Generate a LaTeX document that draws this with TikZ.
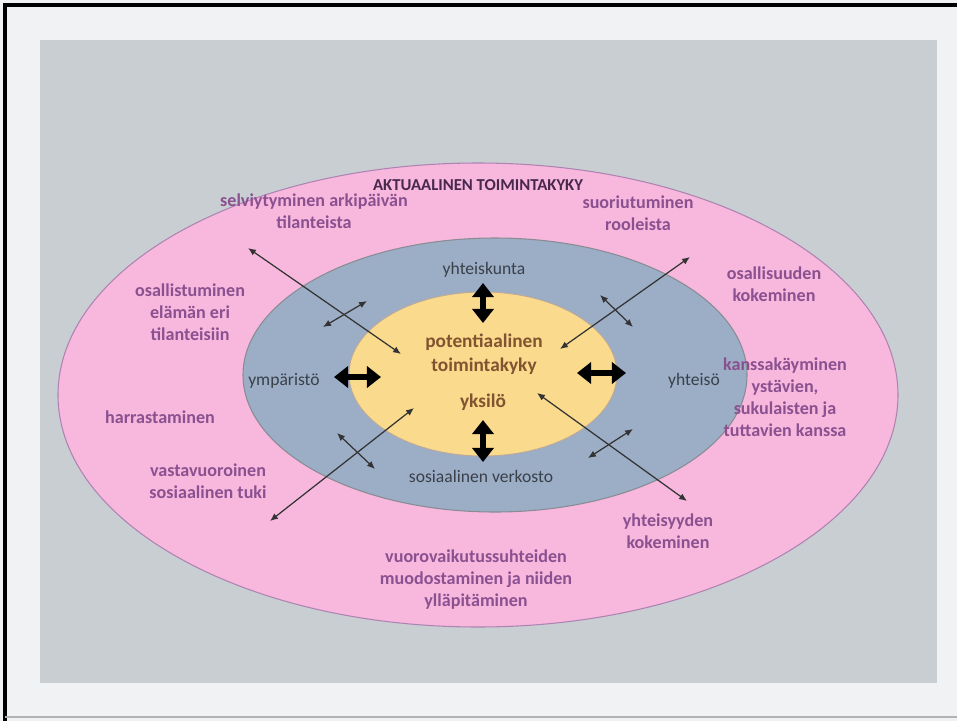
\documentclass[tikz,border=0pt]{standalone}
\usepackage{fontspec}
\setmainfont{Carlito}
\usepackage{tikz}
\usetikzlibrary{arrows.meta,positioning,calc}

\definecolor{bggray}{RGB}{201,206,211}
\definecolor{framewhite}{RGB}{240,242,244}
\definecolor{ringpink}{RGB}{248,184,222}
\definecolor{ringblue}{RGB}{156,173,198}
\definecolor{coreyellow}{RGB}{250,218,140}
\definecolor{labelpurple}{RGB}{138,80,143}
\definecolor{titlepurple}{RGB}{72,40,78}
\definecolor{labelgray}{RGB}{58,64,74}
\definecolor{corebrown}{RGB}{128,84,48}

\tikzset{
	outerlabel/.style={text=labelpurple, font=\fontsize{10.3}{12.5}\selectfont\bfseries, align=center, inner sep=0pt},
	ringlabel/.style={text=labelgray, font=\fontsize{10}{12}\selectfont, inner sep=0pt},
	corelabel/.style={text=corebrown, font=\fontsize{11}{13.5}\selectfont\bfseries, align=center, inner sep=0pt},
	fatarrow/.style={line width=3.6pt, {Triangle[length=8pt,width=12pt]}-{Triangle[length=8pt,width=12pt]}},
	thinarrow/.style={line width=0.7pt, draw=black!80, {Latex[length=4.5pt,width=3.8pt]}-{Latex[length=4.5pt,width=3.8pt]}}
}

\begin{document}
\begin{tikzpicture}[x=0.02cm, y=-0.02cm]
		\useasboundingbox (0,0) rectangle (957,721);
		% frame and background
		\fill [framewhite] (0,0) rectangle (957,721);
		\draw [line width=1.8pt] (957,5) -- (5,5) -- (5,721);
		\draw [gray!60, line width=0.6pt] (5,717) -- (957,717);
		\fill [bggray] (40,40) rectangle (937,683);
		% rings
		\filldraw [fill=ringpink, draw=labelpurple!70, line width=0.6pt] (478,395) ellipse [x radius=420, y radius=232];
		\filldraw [fill=ringblue, draw=labelgray!60, line width=0.6pt] (495,375) ellipse [x radius=252, y radius=137];
		\filldraw [fill=coreyellow, draw=corebrown!50, line width=0.5pt] (483,374) ellipse [x radius=134, y radius=82];
		% outer ring texts
		\node [outerlabel, text=titlepurple, font=\fontsize{9.5}{12}\selectfont\bfseries] (title) at (478,185) {AKTUAALINEN TOIMINTAKYKY};
		\node [outerlabel] (selviytyminen) at (314,211) {selviytyminen arkipäivän\\tilanteista};
		\node [outerlabel] (suoriutuminen) at (638,213) {suoriutuminen\\rooleista};
		\node [outerlabel] (osallistuminen) at (190,312) {osallistuminen\\elämän eri\\tilanteisiin};
		\node [outerlabel] (osallisuus) at (774,284) {osallisuuden\\kokeminen};
		\node [outerlabel] (harrastaminen) at (160,417) {harrastaminen};
		\node [outerlabel] (vastavuoroinen) at (208,481) {vastavuoroinen\\sosiaalinen tuki};
		\node [outerlabel] (kanssakayminen) at (785,397) {kanssakäyminen\\ystävien,\\sukulaisten ja\\tuttavien kanssa};
		\node [outerlabel] (yhteisyys) at (668,531) {yhteisyyden\\kokeminen};
		\node [outerlabel] (vuorovaikutus) at (476,580) {vuorovaikutussuhteiden\\muodostaminen ja niiden\\ylläpitäminen};
		% middle ring texts
		\node [ringlabel] (yhteiskunta) at (484,270) {yhteiskunta};
		\node [ringlabel] (ymparisto) at (284,381) {ympäristö};
		\node [ringlabel] (yhteiso) at (694,381) {yhteisö};
		\node [ringlabel] (verkosto) at (481,476) {sosiaalinen verkosto};
		% core texts
		\node [corelabel] (potentiaalinen) at (484,354) {potentiaalinen\\toimintakyky};
		\node [corelabel] (yksilo) at (483,402) {yksilö};
		% fat arrows
		\foreach \a/\b/\c/\d in {483/283/483/323, 483/420/483/462, 334/377/381/377, 577/373/626/373}
			\draw [fatarrow] (\a,\b) -- (\c,\d);
		% long thin arrows
		\coordinate (tlout) at (248,248);
		\coordinate (tlin) at (401,354);
		\coordinate (trout) at (690,257);
		\coordinate (trin) at (560,349);
		\coordinate (blout) at (270,521);
		\coordinate (blin) at (414,408);
		\coordinate (brout) at (687,501);
		\coordinate (brin) at (537,393);
		\draw [thinarrow] (tlout) -- (tlin);
		\draw [thinarrow] (trout) -- (trin);
		\draw [thinarrow] (blout) -- (blin);
		\draw [thinarrow] (brout) -- (brin);
		% short crossing arrows
		\foreach \a/\b/\c/\d in {323/327/367/301, 600/295/633/327, 337/433/375/469, 633/429/588/458}
			\draw [thinarrow] (\a,\b) -- (\c,\d);
\end{tikzpicture}
\end{document}
